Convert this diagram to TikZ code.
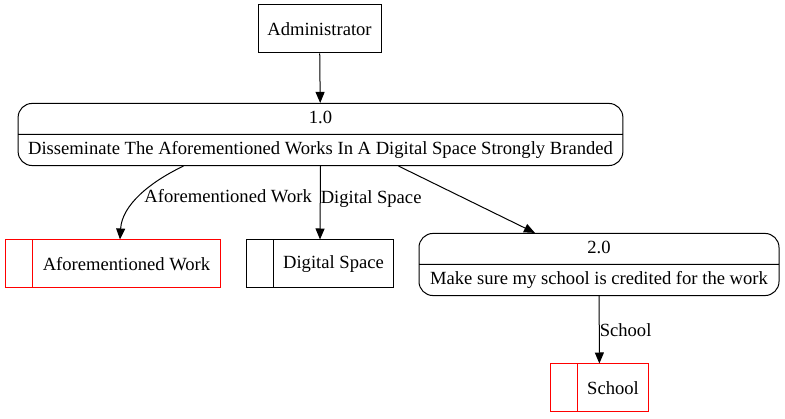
\documentclass[tikz,border=0pt]{standalone}
\usepackage{fontspec}
\setmainfont{Liberation Serif}
\usetikzlibrary{arrows.meta,shapes.multipart}

\begin{document}
\begin{tikzpicture}[x=1pt,y=-1pt,>={Triangle[length=11pt,width=9pt]},line width=1pt,
  font=\fontsize{18.6}{22}\selectfont,
  ext/.style={draw,minimum width=123pt,minimum height=48pt,inner sep=0pt},
  proc/.style={draw,rounded corners=14pt,rectangle split,rectangle split parts=2,align=center,inner xsep=10pt,inner ysep=6.5pt,text height=13pt,text depth=4pt},
  store/.style={draw,minimum height=48pt,inner xsep=10pt,
    path picture={\draw ([xshift=27pt]path picture bounding box.north west) -- ([xshift=27pt]path picture bounding box.south west);}},
  lbl/.style={inner sep=1pt}]
\useasboundingbox (0,0) rectangle (785,419);
% external entity and processes
\node[ext] (admin) at (319.5,29) {Administrator};
\node[proc,minimum width=603pt] (proc1) at (320.5,134.5) {1.0\nodepart{two}Disseminate The Aforementioned Works In A Digital Space Strongly Branded};
\node[proc,minimum width=360pt] (proc2) at (599,264.5) {2.0\nodepart{two}Make sure my school is credited for the work};
% data stores
\node[store,red] (awork) at (113,264) {\hspace*{27pt}\textcolor{black}{Aforementioned Work}};
\node[store] (dspace) at (320,264) {\hspace*{27pt}Digital Space};
\node[store,red] (school) at (599.5,388) {\hspace*{27pt}\textcolor{black}{School}};
% flows
\draw[->] (admin) -- (proc1);
\draw[->] ([xshift=-137pt]proc1.south) .. controls (150,182) and (122,205) .. ([xshift=7pt]awork.north)
  node[lbl,pos=0.5,right,xshift=3pt] {Aforementioned Work};
\draw[->] (proc1.south) -- (dspace.north) node[lbl,pos=0.45,right,inner sep=0pt] {Digital Space};
\draw[->] ([xshift=78pt]proc1.south) -- ([xshift=-64pt]proc2.north);
\draw[->] (proc2) -- (school) node[lbl,midway,right,inner sep=0pt] {School};
\end{tikzpicture}
\end{document}
